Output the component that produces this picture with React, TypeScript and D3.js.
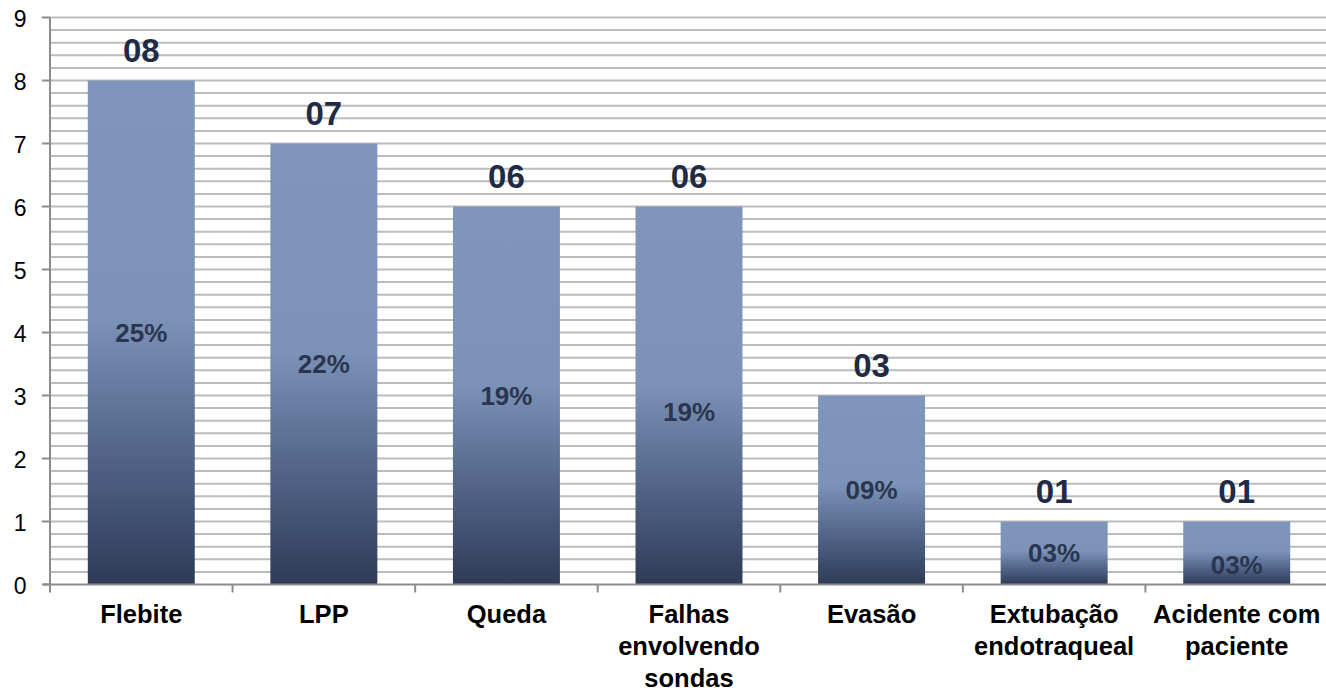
import React, { useEffect, useRef } from "react";
import * as d3 from "d3";

const categories = [
  "Flebite",
  "LPP",
  "Queda",
  "Falhas envolvendo sondas",
  "Evasão",
  "Extubação endotraqueal",
  "Acidente com paciente",
];
const counts = [8, 7, 6, 6, 3, 1, 1];
const countLabels = ["08", "07", "06", "06", "03", "01", "01"];
const percentLabels = ["25%", "22%", "19%", "19%", "09%", "03%", "03%"];
// category labels broken into lines as in the original
const categoryLines = [
  ["Flebite"],
  ["LPP"],
  ["Queda"],
  ["Falhas", "envolvendo", "sondas"],
  ["Evasão"],
  ["Extubação", "endotraqueal"],
  ["Acidente com", "paciente"],
];
const yTicks = [0, 1, 2, 3, 4, 5, 6, 7, 8, 9];

const width = 1326;
const height = 688;
const margin = { left: 50, top: 17.5, bottom: 103.5 };
const plotRight = 1328;

// percent labels were hand-moved a little in the source chart
const pctNudge = [0, 0, 0, 16, 0, 0, 12];

const App = () => {
  const svgRef = useRef<SVGSVGElement>(null);

  useEffect(() => {
    const svg = d3.select(svgRef.current);
    svg.selectAll("*").remove();

    const x = d3
      .scaleBand()
      .domain(categories)
      .range([margin.left, plotRight])
      .paddingInner(0.414)
      .paddingOuter(0.207);

    const y = d3
      .scaleLinear()
      .domain([0, 9])
      .range([height - margin.bottom, margin.top]);

    const defs = svg.append("defs");
    const grad = defs
      .append("linearGradient")
      .attr("id", "barGrad")
      .attr("x1", 0)
      .attr("y1", 0)
      .attr("x2", 0)
      .attr("y2", 1);
    grad.append("stop").attr("offset", 0).attr("stop-color", "#7f95ba");
    grad.append("stop").attr("offset", 0.47).attr("stop-color", "#7c92b7");
    grad.append("stop").attr("offset", 0.72).attr("stop-color", "#55688c");
    grad.append("stop").attr("offset", 1).attr("stop-color", "#2e3b57");

    // gridlines every 0.2
    const minor = d3.range(1, 46).map((i) => i * 0.2);
    svg
      .append("g")
      .selectAll("line")
      .data(minor)
      .join("line")
      .attr("x1", margin.left)
      .attr("x2", plotRight)
      .attr("y1", (d) => y(d))
      .attr("y2", (d) => y(d))
      .attr("stroke", "#bcbcbc")
      .attr("stroke-width", 2);

    // bars
    svg
      .append("g")
      .selectAll("rect")
      .data(counts)
      .join("rect")
      .attr("x", (d, i) => x(categories[i])!)
      .attr("y", (d) => y(d))
      .attr("width", x.bandwidth())
      .attr("height", (d) => y(0) - y(d))
      .attr("fill", "url(#barGrad)");

    // axes
    const axisColor = "#8c8c8c";
    svg
      .append("line")
      .attr("x1", margin.left)
      .attr("x2", margin.left)
      .attr("y1", y(9))
      .attr("y2", y(0) + 7)
      .attr("stroke", axisColor)
      .attr("stroke-width", 2);
    svg
      .append("line")
      .attr("x1", margin.left - 7)
      .attr("x2", plotRight)
      .attr("y1", y(0))
      .attr("y2", y(0))
      .attr("stroke", axisColor)
      .attr("stroke-width", 2);

    svg
      .append("g")
      .selectAll("line")
      .data(yTicks)
      .join("line")
      .attr("x1", margin.left - 8)
      .attr("x2", margin.left)
      .attr("y1", (d) => y(d))
      .attr("y2", (d) => y(d))
      .attr("stroke", axisColor)
      .attr("stroke-width", 2);

    svg
      .append("g")
      .selectAll("line")
      .data(categories)
      .join("line")
      .attr("x1", (d) => x(d)! - (x.step() - x.bandwidth()) / 2)
      .attr("x2", (d) => x(d)! - (x.step() - x.bandwidth()) / 2)
      .attr("y1", y(0))
      .attr("y2", y(0) + 8)
      .attr("stroke", axisColor)
      .attr("stroke-width", 2);

    svg
      .append("g")
      .attr("font-family", "Arial, 'Liberation Sans', sans-serif")
      .attr("font-size", 23)
      .attr("text-anchor", "end")
      .selectAll("text")
      .data(yTicks)
      .join("text")
      .attr("x", 26.5)
      .attr("y", (d) => y(d) + 9)
      .attr("fill", "#000")
      .text((d) => d);

    // category labels
    const cat = svg
      .append("g")
      .attr("font-family", "Arial, 'Liberation Sans', sans-serif")
      .attr("font-size", 25.5)
      .attr("font-weight", "bold")
      .attr("text-anchor", "middle")
      .selectAll("text")
      .data(categories)
      .join("text")
      .attr("x", (d) => x(d)! + x.bandwidth() / 2)
      .attr("y", 623)
      .attr("fill", "#000");
    cat
      .selectAll("tspan")
      .data((d, i) => categoryLines[i])
      .join("tspan")
      .attr("x", function () {
        return (this.parentNode as SVGTextElement).getAttribute("x");
      })
      .attr("dy", (d, i) => (i === 0 ? 0 : 32))
      .text((d) => d);

    // value labels
    svg
      .append("g")
      .attr("font-family", "Arial, 'Liberation Sans', sans-serif")
      .attr("font-size", 33)
      .attr("font-weight", "bold")
      .attr("text-anchor", "middle")
      .selectAll("text")
      .data(counts)
      .join("text")
      .attr("x", (d, i) => x(categories[i])! + x.bandwidth() / 2)
      .attr("y", (d) => y(d) - 19)
      .attr("fill", "#1f2b45")
      .text((d, i) => countLabels[i]);

    // percent labels
    svg
      .append("g")
      .attr("font-family", "Arial, 'Liberation Sans', sans-serif")
      .attr("font-size", 26)
      .attr("font-weight", "bold")
      .attr("text-anchor", "middle")
      .selectAll("text")
      .data(counts)
      .join("text")
      .attr("x", (d, i) => x(categories[i])! + x.bandwidth() / 2)
      .attr("y", (d, i) => y(d / 2) + 9 + pctNudge[i])
      .attr("fill", "#2a364f")
      .text((d, i) => percentLabels[i]);
  }, []);

  return (
    <svg
      ref={svgRef}
      width={width}
      height={height}
      style={{ position: "absolute", left: 0, top: 0, background: "#fff" }}
    />
  );
};

export default App;
